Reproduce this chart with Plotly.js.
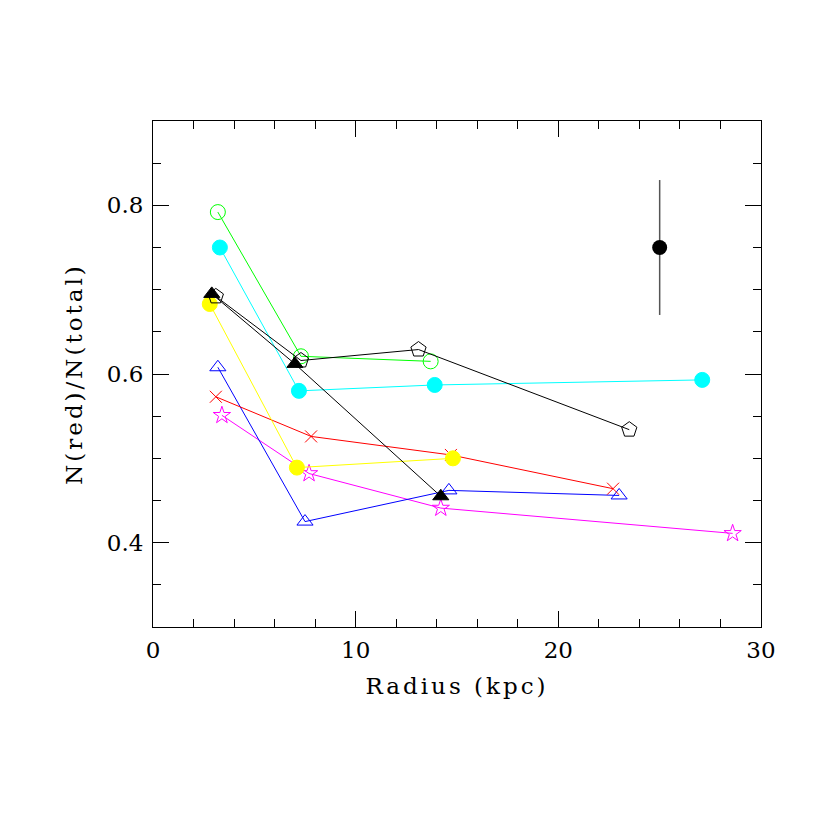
<!DOCTYPE html>
<html>
<head>
<meta charset="utf-8">
<script src="https://cdn.plot.ly/plotly-3.0.1.min.js"></script>
<style>
  html, body { margin: 0; padding: 0; background: #fff; }
  #fracPlot { width: 830px; height: 830px; }
  /* the original lettering is wide and airy */
  #fracPlot .xtitle, #fracPlot .ytitle { letter-spacing: 3px; }
</style>
</head>
<body>
<div id="fracPlot"></div>
<script>
// red fraction vs radius, one series per sample
const greenR = [3.2, 7.3, 13.7];
const greenF = [0.792, 0.621, 0.615];

const cyanR = [3.3, 7.2, 13.9, 27.1];
const cyanF = [0.750, 0.580, 0.587, 0.593];

const pentR = [3.1, 7.3, 13.1, 23.5];
const pentF = [0.692, 0.616, 0.629, 0.534];

const triR = [2.9, 7.0, 14.2];
const triF = [0.695, 0.612, 0.455];

const yellowR = [2.8, 7.1, 14.8];
const yellowF = [0.683, 0.489, 0.500];

const redR = [3.1, 7.8, 14.7, 22.7];
const redF = [0.573, 0.526, 0.504, 0.464];

const blueR = [3.2, 7.5, 14.6, 23.0];
const blueF = [0.608, 0.425, 0.462, 0.456];

const magR = [3.4, 7.7, 14.2, 28.6];
const magF = [0.551, 0.482, 0.441, 0.411];

// typical error bar shown in the corner
const errR = [25];
const errF = [0.75];
const errSize = [0.08];

const fontFam = '"DejaVu Serif", "Liberation Serif", serif';

function series(x, y, color, symbol, size) {
    return {
        type: 'scatter',
        mode: 'lines+markers',
        x: x,
        y: y,
        line: { color: color, width: 1 },
        marker: {
            symbol: symbol,
            size: size,
            color: color,
            line: { color: color, width: 1 }
        },
        hoverinfo: 'skip'
    };
}

const traces = [
    series(magR, magF, '#ff00ff', 'star-open', 13),
    series(blueR, blueF, '#0000ff', 'triangle-up-open', 14),
    series(redR, redF, '#ff0000', 'x-thin-open', 12),
    series(yellowR, yellowF, '#ffff00', 'circle', 15),
    series(cyanR, cyanF, '#00ffff', 'circle', 15),
    series(greenR, greenF, '#00ff00', 'circle-open', 15),
    series(pentR, pentF, '#000000', 'pentagon-open', 16),
    series(triR, triF, '#000000', 'triangle-up', 14),
    {
        type: 'scatter',
        mode: 'markers',
        x: errR,
        y: errF,
        marker: { symbol: 'circle', size: 15, color: '#000000' },
        error_y: { type: 'data', array: errSize, visible: true, color: '#555555', thickness: 1.5, width: 0 },
        hoverinfo: 'skip'
    }
];

const axisCommon = {
    showline: true,
    linecolor: '#000',
    linewidth: 1,
    mirror: 'ticks',
    ticks: 'inside',
    ticklen: 16,
    tickcolor: '#000',
    tickwidth: 1,
    showgrid: false,
    zeroline: false,
    tickfont: { family: fontFam, size: 23, color: '#000' },
};

const layout = {
    width: 830,
    height: 830,
    showlegend: false,
    paper_bgcolor: '#fff',
    plot_bgcolor: '#fff',
    margin: { l: 153, r: 69, t: 121, b: 203 },
    xaxis: {
        ...axisCommon,
        range: [0, 30],
        tick0: 0,
        dtick: 10,
        ticklabelstandoff: 2,
        minor: { ticks: 'inside', dtick: 2, ticklen: 8, tickcolor: '#000', tickwidth: 1, showgrid: false },
        title: { text: 'Radius (kpc)', font: { family: fontFam, size: 23, color: '#000' }, standoff: 16 }
    },
    yaxis: {
        ...axisCommon,
        range: [0.3, 0.9],
        tick0: 0,
        dtick: 0.2,
        tickformat: '.1f',
        ticklabelstandoff: 4,
        minor: { ticks: 'inside', dtick: 0.05, ticklen: 8, tickcolor: '#000', tickwidth: 1, showgrid: false },
        title: { text: 'N(red)/N(total)', font: { family: fontFam, size: 23, color: '#000' }, standoff: 17 }
    }
};

Plotly.newPlot('fracPlot', traces, layout, { staticPlot: true });
</script>
</body>
</html>
